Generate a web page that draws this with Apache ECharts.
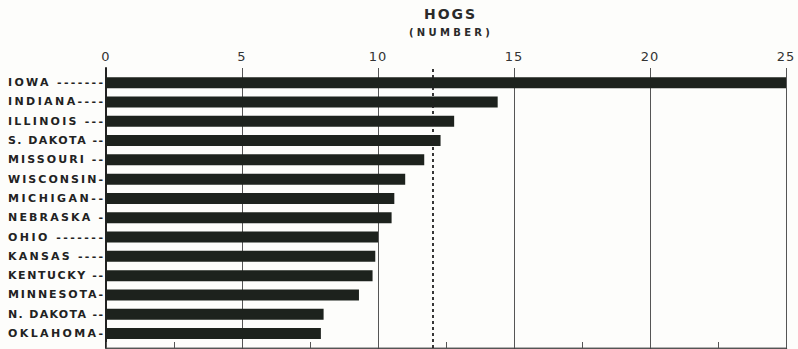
<!DOCTYPE html>
<html>
<head>
<meta charset="utf-8">
<script src="https://cdn.jsdelivr.net/npm/echarts@6/dist/echarts.min.js"></script>
<style>
html,body{margin:0;padding:0;background:#fdfdfb;}
#chart{width:798px;height:349px;}
</style>
</head>
<body>
<div id="chart"></div>
<script>
// ---- data ----
const categories = ['IOWA -------','INDIANA----','ILLINOIS ---','S. DAKOTA --','MISSOURI --','WISCONSIN-','MICHIGAN--','NEBRASKA -','OHIO -------','KANSAS ----','KENTUCKY --','MINNESOTA-','N. DAKOTA --','OKLAHOMA-'];
const hogs = [25, 14.4, 12.8, 12.3, 11.7, 11.0, 10.6, 10.5, 10.0, 9.9, 9.8, 9.3, 8.0, 7.9];
const averageHogs = 12.0;
const axisMin = 0, axisMax = 25, axisStep = 5;
const titleText = 'HOGS';
const unitText = '(NUMBER)';

const ink = '#1d221d';
const chart = echarts.init(document.getElementById('chart'), null, {renderer:'svg'});

const option = {
  animation: false,
  backgroundColor: '#fdfdfb',
  graphic: [
    {type:'text', left: 424, top: 7, style:{text:titleText, font:'bold 14px "DejaVu Sans"', fill:'#2a2a2a'}},
    {type:'text', left: 409, top: 27, style:{text:unitText, font:'bold 10px "DejaVu Sans"', fill:'#2a2a2a'}}
  ],
  grid: [
    {left:106, right:12, top:68, bottom:1},
    {left:106, right:12, top:73, bottom:5.8}
  ],
  xAxis: [
    {gridIndex:0, type:'value', position:'top', min:axisMin, max:axisMax, interval:axisStep,
     axisLine:{show:true, lineStyle:{color:'#555', width:1.3}},
     axisTick:{show:true, inside:true, length:7, lineStyle:{color:'#444', width:1.2}},
     minorTick:{show:true, splitNumber:2, length:5, lineStyle:{color:'#555', width:1}},
     axisLabel:{show:true, margin:5, color:'#333', fontSize:13, fontFamily:'DejaVu Sans'},
     splitLine:{show:true, showMinLine:false, showMaxLine:true, lineStyle:{color:'#555', width:1}}},
    {gridIndex:0, type:'value', position:'bottom', min:axisMin, max:axisMax, interval:2.5,
     axisLine:{show:true, lineStyle:{color:'#555', width:1.3}},
     axisTick:{show:true, inside:true, length:6, lineStyle:{color:'#555', width:1}},
     axisLabel:{show:false}, splitLine:{show:false}},
    {gridIndex:1, type:'value', min:axisMin, max:axisMax, show:false}
  ],
  yAxis: [
    {gridIndex:0, type:'value', min:0, max:1, axisLine:{show:true, lineStyle:{color:'#222', width:2}},
     axisTick:{show:false}, axisLabel:{show:false}, splitLine:{show:false}},
    {gridIndex:1, type:'category', data:categories, inverse:true,
     axisLine:{show:false}, axisTick:{show:false},
     axisLabel:{show:true, align:'left', margin:98, color:'#222', fontSize:11, fontWeight:'bold', fontFamily:'DejaVu Sans'}}
  ],
  series: [
    {type:'scatter', xAxisIndex:0, yAxisIndex:0, data:[], z:1, silent:true,
     markLine:{silent:true, symbol:['none','none'], label:{show:false},
       lineStyle:{color:'#222', width:1.8, type:[3,3]}, data:[{xAxis:averageHogs}]}},
    {type:'bar', xAxisIndex:2, yAxisIndex:1, data:hogs, barWidth:11, z:3,
     itemStyle:{color:ink}}
  ]
};
chart.setOption(option);

function applySpacing(){
  document.querySelectorAll('#chart text').forEach(t => {
    const s = t.textContent;
    if (categories.indexOf(s) >= 0) {
      t.style.letterSpacing = '0px';
      let w = 0;
      try { w = t.getComputedTextLength(); } catch(e) { w = 0; }
      let ls = w > 0 ? (95 - w) / (s.length - 1) : 2;
      ls = Math.max(0.6, Math.min(3, ls));
      t.style.letterSpacing = ls.toFixed(2) + 'px';
    } else if (s === unitText) {
      t.style.letterSpacing = '3.3px';
    } else if (s === titleText) {
      t.style.letterSpacing = '2px';
    } else if (/^\d+$/.test(s)) {
      t.style.letterSpacing = '1px';
    }
  });
}
applySpacing();
chart.on('finished', applySpacing);
setTimeout(applySpacing, 50);
</script>
</body>
</html>
